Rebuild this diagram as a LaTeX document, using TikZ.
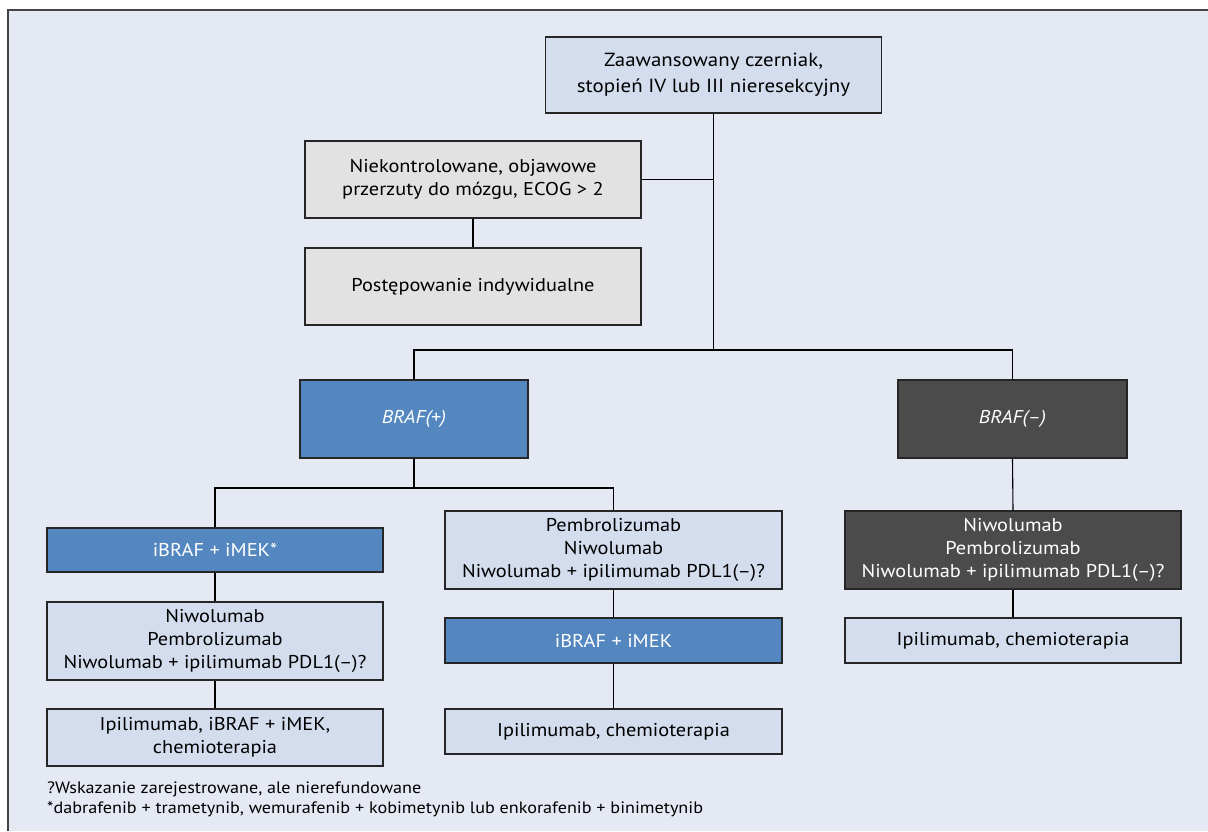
\documentclass[tikz,border=0pt]{standalone}
\usepackage{fontspec}
\setmainfont{PT Sans}[FakeStretch=1.1]
\definecolor{bg}{HTML}{E5E9F4}
\definecolor{lblue}{HTML}{D4DDEE}
\definecolor{lgrey}{HTML}{E2E2E2}
\definecolor{mblue}{HTML}{5487BF}
\definecolor{dgrey}{HTML}{4B4B4B}
\definecolor{frame}{HTML}{444444}
\tikzset{
  box/.style={draw=black!85, line width=1.1pt, align=center, inner sep=0pt,
    font=\fontsize{18.5}{23}\selectfont},
  lbox/.style={box, fill=lblue, text=black},
  gbox/.style={box, fill=lgrey, text=black},
  bbox/.style={box, fill=mblue, text=white},
  dbox/.style={box, fill=dgrey, text=white},
  conn/.style={draw=black, line width=1.1pt},
  note/.style={anchor=base west, inner sep=0pt, font=\fontsize{16.5}{20}\selectfont}
}
\begin{document}
\begin{tikzpicture}[x=1pt,y=-1pt]
\useasboundingbox (0,0) rectangle (1208,831);
\fill[white] (0,0) rectangle (1208,831);
\fill[bg] (8,10) rectangle (1208,831);
\draw[frame, line width=2pt] (8,831) -- (8,10) -- (1208,10);

\node[lbox, minimum width=336pt, minimum height=76pt, font=\fontsize{19}{26}\selectfont] (top) at (713.5,75) {Zaawansowany czerniak,\\stopień IV lub III nieresekcyjny};
\node[gbox, minimum width=336pt, minimum height=77pt] (g1) at (473,179.5) {Niekontrolowane, objawowe\\przerzuty do mózgu, ECOG > 2};
\node[gbox, minimum width=336pt, minimum height=77pt] (g2) at (473,286.5) {Postępowanie indywidualne};

\node[bbox, minimum width=228pt, minimum height=78pt] (bp) at (414,419) {\itshape BRAF(+)};
\node[dbox, minimum width=229pt, minimum height=78pt] (bm) at (1012.5,419) {\itshape BRAF(–)};

\node[bbox, minimum width=336pt, minimum height=44pt] (l1) at (215,550) {iBRAF + iMEK*};
\node[lbox, minimum width=336pt, minimum height=78pt] (l2) at (215,641) {Niwolumab\\Pembrolizumab\\Niwolumab + ipilimumab PDL1(–)?};
\node[lbox, minimum width=336pt, minimum height=57pt] (l3) at (215,737.5) {Ipilimumab, iBRAF + iMEK,\\chemioterapia};

\node[lbox, minimum width=337pt, minimum height=78pt] (m1) at (613.5,550) {Pembrolizumab\\Niwolumab\\Niwolumab + ipilimumab PDL1(–)?};
\node[bbox, minimum width=337pt, minimum height=45pt] (m2) at (613.5,640.5) {iBRAF + iMEK};
\node[lbox, minimum width=337pt, minimum height=45pt] (m3) at (613.5,731.5) {Ipilimumab, chemioterapia};

\node[dbox, minimum width=336pt, minimum height=78pt] (r1) at (1013,550) {Niwolumab\\Pembrolizumab\\Niwolumab + ipilimumab PDL1(–)?};
\node[lbox, minimum width=336pt, minimum height=45pt] (r2) at (1013,640.5) {Ipilimumab, chemioterapia};

\coordinate (j1) at (713.5,350);
\coordinate (j2) at (414,488);

\draw[conn] (top.south) -- (j1);
\draw[conn] (g1.east) -- (g1.east -| top.south);
\draw[conn] (g1.south) -- (g2.north);
\draw[conn] (bp.north) |- (j1) -| (bm.north);
\draw[conn] (bp.south) -- (j2);
\draw[conn] (l1.north) |- (j2) -| (m1.north);
\draw[conn] (l1.south) -- (l2.north);
\draw[conn] (l2.south) -- (l3.north);
\draw[conn] (m1.south) -- (m2.north);
\draw[conn] (m2.south) -- (m3.north);
\draw[conn] (bm.south) -- (r1.north);
\draw[conn] (r1.south) -- (r2.north);

\node[note] (n1) at (47,793) {?Wskazanie zarejestrowane, ale nierefundowane};
\node[note] (n2) at (47,813) {*dabrafenib + trametynib, wemurafenib + kobimetynib lub enkorafenib + binimetynib};
\end{tikzpicture}
\end{document}
